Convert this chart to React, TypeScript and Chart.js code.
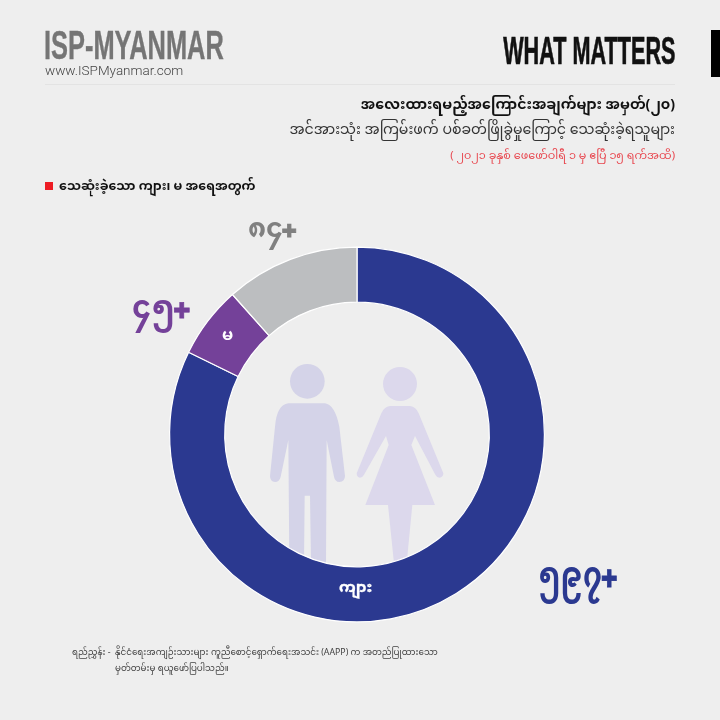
import React, { useEffect, useRef } from "react";
import { Chart, registerables } from "chart.js";

Chart.register(...registerables);

const categories = ["ကျား", "မ", "မသိ"];
const deaths = [597, 45, 84];
const deathLabels = ["၅၉၇+", "၄၅+", "၈၄+"];
const sliceColors = ["#2b3990", "#744199", "#bcbec0"];

const mm = '"Noto Sans Myanmar","Padauk","Myanmar Text","Noto Sans",sans-serif';
const narrow = '"Liberation Sans"';

type T = { text: string; style: React.CSSProperties };
const texts: T[] = [
  { text: "ISP-MYANMAR", style: { left: 44, top: 21, fontFamily: narrow, fontWeight: 700, fontSize: 41, color: "#757575", transform: "scaleX(0.62)", transformOrigin: "left top", WebkitTextStroke: "0.4px #757575" } },
  { text: "www.ISPMyanmar.com", style: { left: 45, top: 62, fontFamily: "Roboto", fontWeight: 300, fontSize: 13.5, color: "#444" } },
  { text: "WHAT MATTERS", style: { right: 45, top: 28, fontFamily: narrow, fontWeight: 700, fontSize: 39, color: "#111", transform: "scaleX(0.555)", transformOrigin: "right top", WebkitTextStroke: "0.7px #111" } },
  { text: "အလေးထားရမည့်အကြောင်းအချက်များ အမှတ်(၂၀)", style: { right: 45, top: 97, fontFamily: mm, fontWeight: 700, fontSize: 14.2, color: "#111" } },
  { text: "အင်အားသုံး အကြမ်းဖက် ပစ်ခတ်ဖြိုခွဲမှုကြောင့် သေဆုံးခဲ့ရသူများ", style: { right: 45, top: 122, fontFamily: mm, fontSize: 14.15, color: "#333" } },
  { text: "( ၂၀၂၁ ခုနှစ် ဖေဖော်ဝါရီ ၁ မှ ဧပြီ ၁၅ ရက်အထိ)", style: { right: 45, top: 150, fontFamily: mm, fontSize: 11.2, color: "#e8474f" } },
  { text: "သေဆုံးခဲ့သော ကျား၊ မ အရေအတွက်", style: { left: 59, top: 179.5, fontFamily: mm, fontWeight: 700, fontSize: 12.55, color: "#111" } },
  { text: deathLabels[2], style: { left: 248, top: 215, fontFamily: mm, fontWeight: 700, fontSize: 27, color: "#808080" } },
  { text: deathLabels[1], style: { left: 132, top: 291, fontFamily: mm, fontWeight: 700, fontSize: 33, color: sliceColors[1], transform: "scaleX(0.93)", transformOrigin: "left top" } },
  { text: deathLabels[0], style: { left: 538, top: 557, fontFamily: mm, fontWeight: 700, fontSize: 36, color: sliceColors[0], transform: "scaleX(0.82)", transformOrigin: "left top" } },
  { text: categories[1], style: { left: 222, top: 327, fontFamily: mm, fontWeight: 700, fontSize: 16, color: "#fff" } },
  { text: categories[0], style: { left: 339, top: 580, fontFamily: mm, fontWeight: 700, fontSize: 15, color: "#fff", WebkitTextStroke: "0.3px #fff" } },
  { text: "ရည်ညွှန်း -", style: { left: 72, top: 648, fontFamily: mm, fontSize: 8.75, color: "#444" } },
  { text: "နိုင်ငံရေးအကျဉ်းသားများ ကူညီစောင့်ရှောက်ရေးအသင်း (AAPP) က အတည်ပြုထားသော", style: { left: 115, top: 648, fontFamily: mm, fontSize: 8.75, color: "#444" } },
  { text: "မှတ်တမ်းမှ ရယူဖော်ပြပါသည်။", style: { left: 115, top: 664, fontFamily: mm, fontSize: 8.75, color: "#444" } },
];

function renderText(s: string) {
  if (!s.endsWith("+")) return s;
  return (
    <>
      {s.slice(0, -1)}
      <span style={{ fontSize: "0.98em", fontWeight: 900, position: "relative", top: "0.12em", left: "-0.05em", WebkitTextStroke: "0.8px currentColor" }}>+</span>
    </>
  );
}

export default function App() {
  const ref = useRef<HTMLCanvasElement>(null);
  useEffect(() => {
    document.body.style.margin = "0";
    const chart = new Chart(ref.current!, {
      type: "doughnut",
      data: {
        labels: categories,
        datasets: [{ data: deaths, backgroundColor: sliceColors, borderColor: "#ffffff", borderWidth: 1.2, hoverOffset: 0 }],
      },
      options: {
        animation: false,
        responsive: false,
        cutout: "70.6%",
        rotation: 0,
        layout: { padding: { left: 169, right: 175, top: 246.5, bottom: 97.5 } },
        plugins: { legend: { display: false }, tooltip: { enabled: false } },
      },
    });
    return () => chart.destroy();
  }, []);
  return (
    <div style={{ position: "absolute", left: 0, top: 0, width: 720, height: 720, background: "#eeeeee", overflow: "hidden" }}>
      <div style={{ position: "absolute", left: 45, top: 84, width: 630, height: 1, background: "#e3e3e3" }} />
      <div style={{ position: "absolute", left: 711, top: 30, width: 9, height: 47, background: "#000" }} />
      <div style={{ position: "absolute", left: 45, top: 182, width: 8, height: 8, background: "#ed1c24" }} />
      <svg style={{ position: "absolute", left: 250, top: 350 }} width={210} height={220} viewBox="0 0 630 660">
        <circle cx={172} cy={94} r={52} fill="#d4d3e8" />
        <path fill="#d4d3e8" d="M115,160 L225,160 Q255,165 268,230 L285,378 Q285,395 268,396 Q255,395 252,380 L230,270 L228,640 L183,640 L180,437 L164,437 L162,640 L118,640 L115,270 L92,380 Q88,396 75,396 Q60,395 60,378 L75,230 Q80,165 115,160 Z" />
        <circle cx={450} cy={102} r={51} fill="#dcd8ec" />
        <path fill="#dcd8ec" d="M420,168 L480,168 Q498,170 506,190 L580,370 Q580,382 568,383 Q560,382 556,374 L495,258 L484,285 L555,465 L487,465 L470,640 L432,640 L414,465 L346,465 L416,285 L408,258 L342,374 Q338,382 330,383 Q320,382 320,370 L394,190 Q402,170 420,168 Z" />
      </svg>
      <canvas ref={ref} width={720} height={720} style={{ position: "absolute", left: 0, top: 0, width: 720, height: 720 }} />
      {texts.map((t, i) => (
        <div key={i} style={{ position: "absolute", whiteSpace: "nowrap", lineHeight: 1.2, ...t.style }}>{renderText(t.text)}</div>
      ))}
    </div>
  );
}
